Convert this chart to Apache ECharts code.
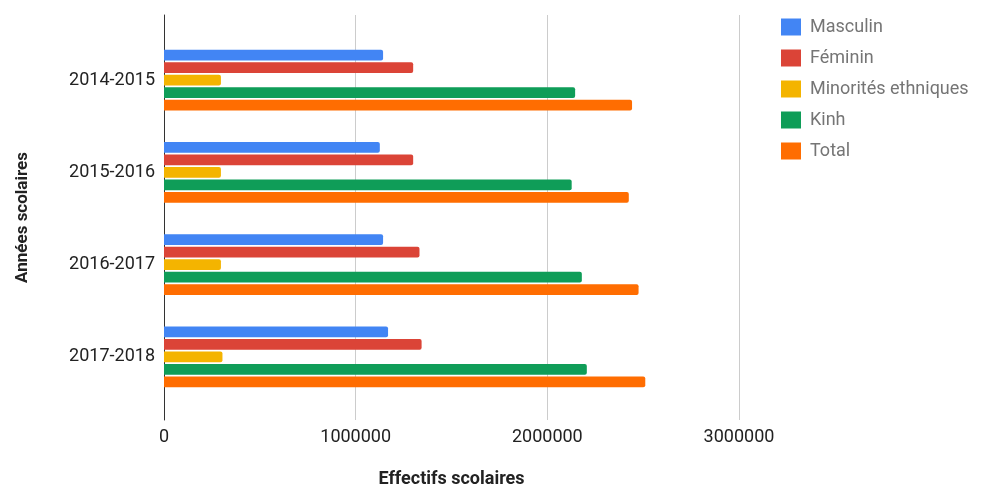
<!DOCTYPE html>
<html>
<head>
<meta charset="utf-8">
<script src="https://cdn.jsdelivr.net/npm/echarts@6/dist/echarts.min.js"></script>
<style>
  html, body { margin: 0; padding: 0; background: #fff; }
  #chart { width: 984px; height: 486px; }
</style>
</head>
<body>
<div id="chart"></div>
<script>
// School years and enrolment by group
const years = ['2014-2015', '2015-2016', '2016-2017', '2017-2018'];
const masculin = [1143000, 1126000, 1143000, 1169000];
const feminin = [1300000, 1300000, 1333000, 1344000];
const minorites = [297000, 297000, 297000, 305000];
const kinh = [2145000, 2127000, 2180000, 2206000];
const total = [2442000, 2425000, 2476000, 2511000];

const seriesNames = ['Masculin', 'Féminin', 'Minorités ethniques', 'Kinh', 'Total'];
const seriesData = [masculin, feminin, minorites, kinh, total];
const colors = ['#4285F4', '#DB4437', '#F4B400', '#0F9D58', '#FF6D01'];

const xTicks = { min: 0, max: 3000000, interval: 1000000 };

const FONT = 'Roboto';
const chart = echarts.init(document.getElementById('chart'));

chart.setOption({
  animation: false,
  color: colors,
  textStyle: { fontFamily: FONT },
  legend: {
    orient: 'vertical',
    left: 776,
    top: 13,
    itemWidth: 20,
    itemHeight: 17,
    itemGap: 13,
    icon: 'rect',
    data: seriesNames,
    textStyle: { fontFamily: FONT, fontSize: 18, lineHeight: 18, color: '#757575', padding: [0, 0, 0, 4] }
  },
  grid: [
    // frame grid: gridlines, value labels and axis titles
    { left: 164, top: 15, width: 575, height: 405, outerBoundsMode: 'none', containLabel: false },
    // bar grid
    { left: 164, top: 34, width: 575, height: 369, outerBoundsMode: 'none', containLabel: false }
  ],
  xAxis: [
    {
      gridIndex: 0, type: 'value', min: xTicks.min, max: xTicks.max, interval: xTicks.interval,
      axisLine: { show: false }, axisTick: { show: false },
      splitLine: { lineStyle: { color: '#cccccc', width: 1 } },
      axisLabel: { fontFamily: FONT, fontSize: 18, color: '#222', margin: 8, formatter: v => String(v) },
      name: 'Effectifs scolaires', nameLocation: 'middle', nameGap: 50,
      nameTextStyle: { fontFamily: FONT, fontSize: 18, fontWeight: 'bold', color: '#222' }
    },
    {
      gridIndex: 1, type: 'value', min: xTicks.min, max: xTicks.max, interval: xTicks.interval,
      show: false, splitLine: { show: false }
    }
  ],
  yAxis: [
    {
      gridIndex: 0, type: 'category', data: [''],
      axisLine: { show: true, lineStyle: { color: '#333', width: 1 } },
      axisTick: { show: false }, axisLabel: { show: false }, splitLine: { show: false },
      name: 'Années scolaires', nameLocation: 'middle', nameGap: 133, nameRotate: 90,
      nameTextStyle: { fontFamily: FONT, fontSize: 17, fontWeight: 'bold', color: '#222' }
    },
    {
      gridIndex: 1, type: 'category', data: years, inverse: true,
      axisLine: { show: false }, axisTick: { show: false }, splitLine: { show: false },
      axisLabel: { fontFamily: FONT, fontSize: 18, color: '#222', margin: 9 }
    }
  ],
  series: seriesNames.map((name, i) => ({
    name,
    type: 'bar',
    xAxisIndex: 1,
    yAxisIndex: 1,
    data: seriesData[i],
    barCategoryGap: '34%',
    barGap: '17%',
    itemStyle: { color: colors[i], borderRadius: [0, 2, 2, 0] }
  }))
});
</script>
</body>
</html>
